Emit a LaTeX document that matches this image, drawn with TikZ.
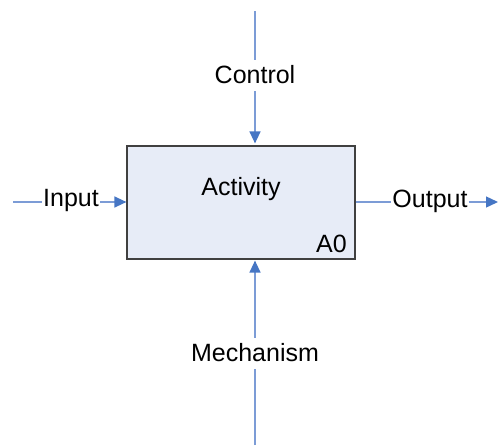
\documentclass[tikz,border=0pt]{standalone}
\usepackage{fontspec}
\setmainfont{Liberation Sans}
\usetikzlibrary{arrows.meta}
\definecolor{flowline}{HTML}{7C9CD6}
\definecolor{flowtip}{HTML}{4676C4}
\definecolor{boxfill}{HTML}{E7ECF7}
\definecolor{boxedge}{HTML}{404040}
\begin{document}
\begin{tikzpicture}[x=1pt,y=-1pt,
  every node/.style={font=\fontsize{25}{30}\selectfont},
  activitybox/.style={draw=boxedge,fill=boxfill,line width=1.2pt,
    minimum width=228pt,minimum height=113pt,inner sep=0pt},
  hlabel/.style={inner xsep=1pt,inner ysep=0pt,text height=18pt,text depth=5pt,anchor=base},
  vlabel/.style={inner xsep=1pt,inner ysep=0pt,text height=23pt,text depth=8pt,anchor=base},
  flow/.style={draw=flowline,line width=1.4pt},
  flowarrow/.style={flow,-{Triangle[length=12pt,width=11pt,color=flowtip]}}]
  \useasboundingbox (0,0) rectangle (498,445);

  % the activity box
  \node[activitybox] (act) at (241,202.5) {};
  \node[anchor=base] (name) at (241,195) {Activity};
  \node[anchor=base east,inner sep=0pt] (num) at (347,252) {A0};

  % labels on the four arrows
  \node[vlabel] (ctrl) at (255,83) {Control};
  \node[vlabel] (mech) at (255,361) {Mechanism};
  \node[hlabel] (inp) at (71,206.5) {Input};
  \node[hlabel] (outp) at (430,207) {Output};

  % free ends of the arrows
  \coordinate (ctrltop) at (255,11);
  \coordinate (mechbot) at (255,445);
  \coordinate (inpleft) at (13,202);
  \coordinate (outright) at (498,202);

  % control, from above
  \draw[flow] (ctrltop) -- (ctrl.north);
  \draw[flowarrow,shorten >=2pt] (ctrl.south) -- (ctrl.south |- act.north);
  % mechanism, from below
  \draw[flow] (mechbot) -- (mech.south);
  \draw[flowarrow,shorten >=1pt] (mech.north) -- (mech.north |- act.south);
  % input, from the left
  \draw[flow] (inpleft) -- (inpleft -| inp.west);
  \draw[flowarrow] (inpleft -| inp.east) -- (inpleft -| act.west);
  % output, to the right
  \draw[flow] (inpleft -| act.east) -- (inpleft -| outp.west);
  \draw[flowarrow] (inpleft -| outp.east) -- (outright);
\end{tikzpicture}
\end{document}
